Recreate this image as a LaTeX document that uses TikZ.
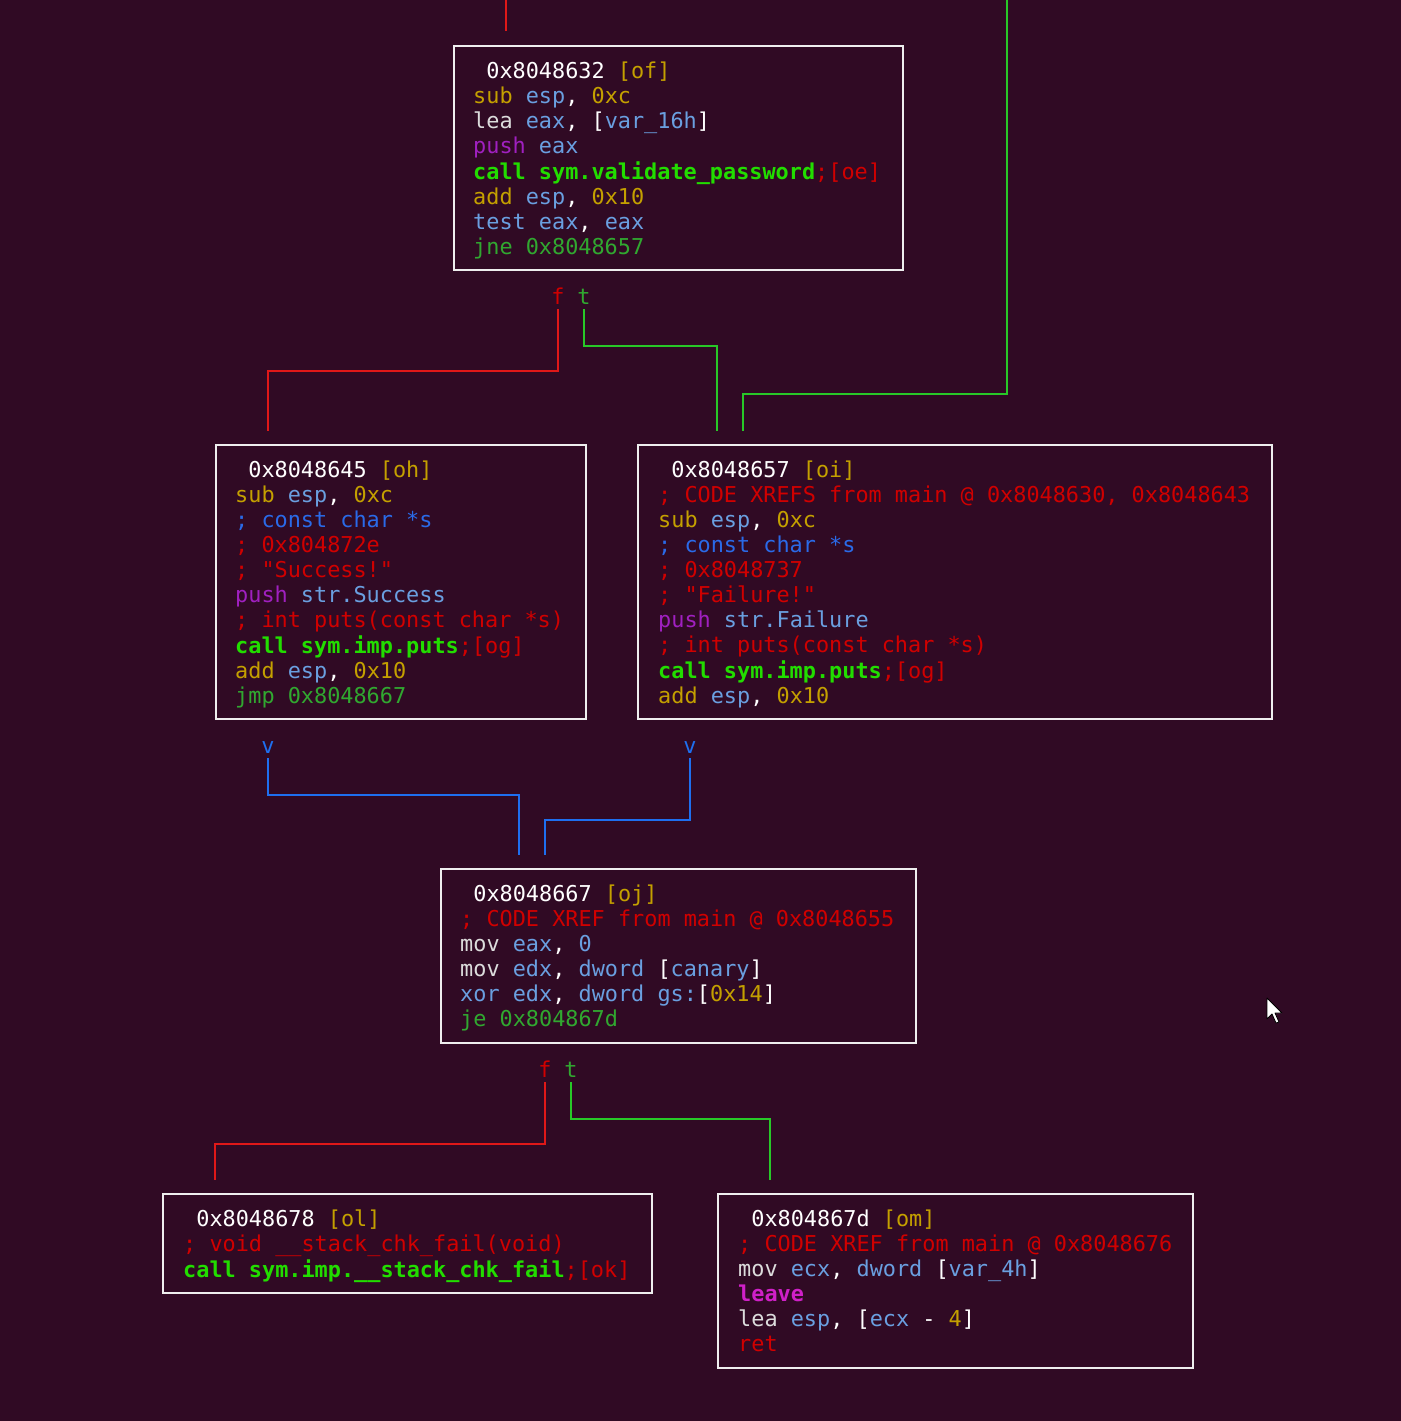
\documentclass[tikz,border=0pt]{standalone}
\usepackage{fontspec}
\newfontfamily\codefont{DejaVu Sans Mono}
\usetikzlibrary{calc}
\definecolor{bgc}{HTML}{300A24}
\definecolor{boxc}{HTML}{EEEEEE}
\definecolor{cwh}{HTML}{FFFFFF}
\definecolor{cgy}{HTML}{DCDCDC}
\definecolor{cgo}{HTML}{C4A000}
\definecolor{clb}{HTML}{6A9FE0}
\definecolor{cbl}{HTML}{2A6AE8}
\definecolor{cmg}{HTML}{A020C0}
\definecolor{cmgb}{HTML}{D020C8}
\definecolor{cbg}{HTML}{22DD00}
\definecolor{cgr}{HTML}{30A830}
\definecolor{crd}{HTML}{D00000}
\definecolor{lred}{HTML}{E01818}
\definecolor{lgrn}{HTML}{28C828}
\definecolor{lblu}{HTML}{1E6FF0}
\newcommand\xWh[1]{\textcolor{cwh}{#1}}
\newcommand\xGy[1]{\textcolor{cgy}{#1}}
\newcommand\xGo[1]{\textcolor{cgo}{#1}}
\newcommand\xLb[1]{\textcolor{clb}{#1}}
\newcommand\xBl[1]{\textcolor{cbl}{#1}}
\newcommand\xMg[1]{\textcolor{cmg}{#1}}
\newcommand\xMgb[1]{\textcolor{cmgb}{\bfseries #1}}
\newcommand\xBg[1]{\textcolor{cbg}{\bfseries #1}}
\newcommand\xGr[1]{\textcolor{cgr}{#1}}
\newcommand\xRd[1]{\textcolor{crd}{#1}}
\newcommand\ls{\rule[-7.5pt]{0pt}{25pt}}
\newcommand\codesize{\codefont\fontsize{21.85pt}{25pt}\selectfont\frenchspacing}
\begin{document}
\begin{tikzpicture}[x=1pt,y=1pt,
  blk/.style={draw=boxc, line width=2pt, inner sep=0pt, anchor=north west},
  code/.style={anchor=north west, inner sep=0pt, align=left, font=\codesize, text=cwh},
  lbl/.style={anchor=base, inner sep=0pt, font=\codesize},
  redl/.style={draw=lred, line width=1.8pt},
  grnl/.style={draw=lgrn, line width=1.8pt},
  blul/.style={draw=lblu, line width=1.8pt}]
\useasboundingbox (0,0) rectangle (1400,-1421);
\fill[bgc] (-6,6) rectangle (1406,-1427);

% boxes
\node[blk, minimum width=449pt, minimum height=224pt] (of) at (453,-45) {};
\node[blk, minimum width=370pt, minimum height=274pt] (oh) at (215,-444) {};
\node[blk, minimum width=634pt, minimum height=274pt] (oi) at (637,-444) {};
\node[blk, minimum width=475pt, minimum height=174pt] (oj) at (440,-868) {};
\node[blk, minimum width=489pt, minimum height=99pt] (ol) at (162,-1193) {};
\node[blk, minimum width=475pt, minimum height=174pt] (om) at (717,-1193) {};

% texts
\node[code] (oft) at ($(of.north west)+(20,-15.5)$) {%
\ls\phantom{0}\xWh{0x8048632} \xGo{[of]}\\
\ls\xGo{sub} \xLb{esp}\xWh{,} \xGo{0xc}\\
\ls\xGy{lea} \xLb{eax}\xWh{,} \xWh{[}\xLb{var\_16h}\xWh{]}\\
\ls\xMg{push} \xLb{eax}\\
\ls\xBg{call sym.validate\_password}\xRd{;[oe]}\\
\ls\xGo{add} \xLb{esp}\xWh{,} \xGo{0x10}\\
\ls\xLb{test eax}\xWh{,} \xLb{eax}\\
\ls\xGr{jne 0x8048657}};

\node[code] (oht) at ($(oh.north west)+(20,-15.5)$) {%
\ls\phantom{0}\xWh{0x8048645} \xGo{[oh]}\\
\ls\xGo{sub} \xLb{esp}\xWh{,} \xGo{0xc}\\
\ls\xBl{; const char *s}\\
\ls\xRd{; 0x804872e}\\
\ls\xRd{; "Success!"}\\
\ls\xMg{push} \xLb{str.Success}\\
\ls\xRd{; int puts(const char *s)}\\
\ls\xBg{call sym.imp.puts}\xRd{;[og]}\\
\ls\xGo{add} \xLb{esp}\xWh{,} \xGo{0x10}\\
\ls\xGr{jmp 0x8048667}};

\node[code] (oit) at ($(oi.north west)+(21,-15.5)$) {%
\ls\phantom{0}\xWh{0x8048657} \xGo{[oi]}\\
\ls\xRd{; CODE XREFS from main @ 0x8048630, 0x8048643}\\
\ls\xGo{sub} \xLb{esp}\xWh{,} \xGo{0xc}\\
\ls\xBl{; const char *s}\\
\ls\xRd{; 0x8048737}\\
\ls\xRd{; "Failure!"}\\
\ls\xMg{push} \xLb{str.Failure}\\
\ls\xRd{; int puts(const char *s)}\\
\ls\xBg{call sym.imp.puts}\xRd{;[og]}\\
\ls\xGo{add} \xLb{esp}\xWh{,} \xGo{0x10}};

\node[code] (ojt) at ($(oj.north west)+(20,-15.5)$) {%
\ls\phantom{0}\xWh{0x8048667} \xGo{[oj]}\\
\ls\xRd{; CODE XREF from main @ 0x8048655}\\
\ls\xGy{mov} \xLb{eax}\xWh{,} \xLb{0}\\
\ls\xGy{mov} \xLb{edx}\xWh{,} \xLb{dword} \xWh{[}\xLb{canary}\xWh{]}\\
\ls\xLb{xor edx}\xWh{,} \xLb{dword gs:}\xWh{[}\xGo{0x14}\xWh{]}\\
\ls\xGr{je 0x804867d}};

\node[code] (olt) at ($(ol.north west)+(21,-15.5)$) {%
\ls\phantom{0}\xWh{0x8048678} \xGo{[ol]}\\
\ls\xRd{; void \_\_stack\_chk\_fail(void)}\\
\ls\xBg{call sym.imp.\_\_stack\_chk\_fail}\xRd{;[ok]}};

\node[code] (omt) at ($(om.north west)+(21,-15.5)$) {%
\ls\phantom{0}\xWh{0x804867d} \xGo{[om]}\\
\ls\xRd{; CODE XREF from main @ 0x8048676}\\
\ls\xGy{mov} \xLb{ecx}\xWh{,} \xLb{dword} \xWh{[}\xLb{var\_4h}\xWh{]}\\
\ls\xMgb{leave}\\
\ls\xGy{lea} \xLb{esp}\xWh{,} \xWh{[}\xLb{ecx} \xWh{-} \xGo{4}\xWh{]}\\
\ls\xRd{ret}};

% branch labels
\node[lbl, text=crd] (f1) at ($(of.south west)+(105,-33)$) {f};
\node[lbl, text=cgr] (t1) at ($(of.south west)+(131,-33)$) {t};
\node[lbl, text=lblu] (v1) at ($(oh.south west)+(53,-33)$) {v};
\node[lbl, text=lblu] (v2) at ($(oi.south west)+(53,-33)$) {v};
\node[lbl, text=crd] (f2) at ($(oj.south west)+(105,-33)$) {f};
\node[lbl, text=cgr] (t2) at ($(oj.south west)+(131,-33)$) {t};

% connector ends
\coordinate (topr) at (506,0);
\coordinate (topg) at (1007,0);
\coordinate (ofin) at ($(of.north west)+(53,14)$);
\coordinate (ohin) at ($(oh.north west)+(53,13)$);
\coordinate (oiin1) at ($(oi.north west)+(80,13)$);
\coordinate (oiin2) at ($(oi.north west)+(106,13)$);
\coordinate (ojin1) at ($(oj.north west)+(79,13)$);
\coordinate (ojin2) at ($(oj.north west)+(105,13)$);
\coordinate (olin) at ($(ol.north west)+(53,13)$);
\coordinate (omin) at ($(om.north west)+(53,13)$);

% connectors
\draw[redl] (topr) -- (ofin);
\draw[grnl] (topg) -- ++(0,-394) -| (oiin2);
\draw[redl] ([yshift=-5pt]f1.base) -- ++(0,-62) -| (ohin);
\draw[grnl] ([yshift=-5pt]t1.base) -- ++(0,-37) -| (oiin1);
\draw[blul] ([yshift=-5pt]v1.base) -- ++(0,-37) -| (ojin1);
\draw[blul] ([yshift=-5pt]v2.base) -- ++(0,-62) -| (ojin2);
\draw[redl] ([yshift=-5pt]f2.base) -- ++(0,-62) -| (olin);
\draw[grnl] ([yshift=-5pt]t2.base) -- ++(0,-37) -| (omin);

% mouse pointer
\filldraw[fill=white, draw=black, line width=0.8pt, line join=round]
  (1267,-998) -- (1267,-1019) -- (1272,-1014) -- (1276,-1023) -- (1279,-1022)
  -- (1275,-1013) -- (1282,-1013) -- cycle;
\end{tikzpicture}
\end{document}
